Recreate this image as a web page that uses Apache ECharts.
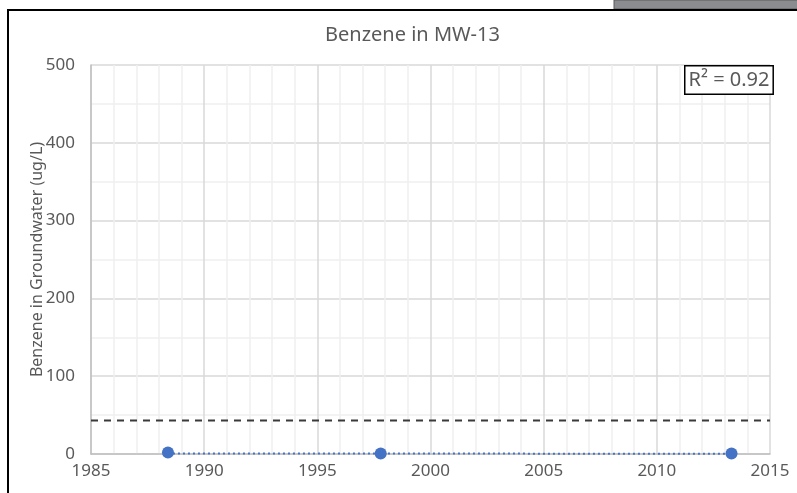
<!DOCTYPE html>
<html lang="en">
<head>
    <meta charset="UTF-8">
    <title>Benzene in MW-13</title>
    <script src="https://cdn.jsdelivr.net/npm/echarts@6/dist/echarts.min.js"></script>
    <style>
        html, body {
            margin: 0;
            padding: 0;
            background: #fff;
        }

        #chart {
            width: 797px;
            height: 493px;
        }
    </style>
</head>
<body>
    <div id="chart"></div>
    <script>
        // sample dates (decimal years) and benzene results (ug/L)
        var sampleYears = [1988.4, 1997.8, 2013.3];
        var benzene = [2, 0.5, 0.5];
        // trendline end points
        var trendYears = [1988.4, 2013.3];
        var trendValues = [0.8, 0.3];
        // dashed screening level
        var screeningLevel = 43;
        var rSquared = '0.92';

        var chart = echarts.init(document.getElementById('chart'));
        var font = '"Noto Sans", sans-serif';
        var grey = '#595959';

        var points = sampleYears.map(function (y, i) { return [y, benzene[i]]; });
        var trend = trendYears.map(function (y, i) { return [y, trendValues[i]]; });

        var option = {
            animation: false,
            title: {
                text: 'Benzene in MW-13',
                left: 320,
                top: 20,
                textStyle: { fontFamily: font, fontSize: 20, fontWeight: 'normal', color: grey }
            },
            grid: { left: 91, right: 27, top: 65, bottom: 39 },
            xAxis: {
                type: 'value',
                min: 1985,
                max: 2015,
                interval: 5,
                axisLine: { show: true, onZero: false, lineStyle: { color: '#bfbfbf', width: 1.5 } },
                axisTick: { show: false },
                axisLabel: {
                    fontFamily: font, fontSize: 17, color: grey, margin: 9,
                    formatter: function (v) { return String(v); }
                },
                splitLine: { show: true, lineStyle: { color: '#d9d9d9', width: 1.5 } },
                minorTick: { show: false, splitNumber: 5 },
                minorSplitLine: { show: true, lineStyle: { color: '#f0f0f0', width: 1.5 } }
            },
            yAxis: {
                type: 'value',
                min: 0,
                max: 500,
                interval: 100,
                name: 'Benzene in Groundwater (ug/L)',
                nameLocation: 'middle',
                nameGap: 46,
                nameMoveOverlap: false,
                nameTextStyle: { fontFamily: font, fontSize: 16, color: grey },
                axisLine: { show: true, lineStyle: { color: '#bfbfbf', width: 1.5 } },
                axisTick: { show: false },
                axisLabel: { fontFamily: font, fontSize: 17, color: grey, margin: 16 },
                splitLine: { show: true, lineStyle: { color: '#d9d9d9', width: 1.5 } },
                minorTick: { show: false, splitNumber: 2 },
                minorSplitLine: { show: true, lineStyle: { color: '#f0f0f0', width: 1.5 } }
            },
            series: [
                {
                    name: 'Trend',
                    type: 'line',
                    data: trend,
                    symbol: 'none',
                    lineStyle: { color: '#4472c4', width: 2, type: [2, 3] },
                    z: 3
                },
                {
                    name: 'Benzene',
                    type: 'scatter',
                    data: points,
                    symbolSize: 12,
                    itemStyle: { color: '#4472c4', opacity: 1 },
                    z: 4
                },
                {
                    name: 'Screening level',
                    type: 'line',
                    data: [[1985, screeningLevel], [2015, screeningLevel]],
                    symbol: 'none',
                    lineStyle: { color: '#3a3a3a', width: 2, type: [7, 6] },
                    z: 2
                }
            ],
            graphic: [
                {
                    type: 'rect',
                    shape: { x: 614, y: 0, width: 190, height: 9 },
                    style: { fill: '#8a8c8f', stroke: '#5a5a5a', lineWidth: 1 },
                    z: 100
                },
                {
                    type: 'rect',
                    shape: { x: 8, y: 10, width: 800, height: 500 },
                    style: { fill: null, stroke: '#000', lineWidth: 2 },
                    z: 101
                },
                {
                    type: 'text',
                    left: 684,
                    top: 65,
                    z: 102,
                    style: {
                        text: 'R² = ' + rSquared,
                        font: '20px ' + font,
                        fill: grey,
                        backgroundColor: '#fff',
                        borderColor: '#000',
                        borderWidth: 1.5,
                        padding: [4, 3, 3, 3]
                    }
                }
            ]
        };
        chart.setOption(option);
    </script>
</body>
</html>
